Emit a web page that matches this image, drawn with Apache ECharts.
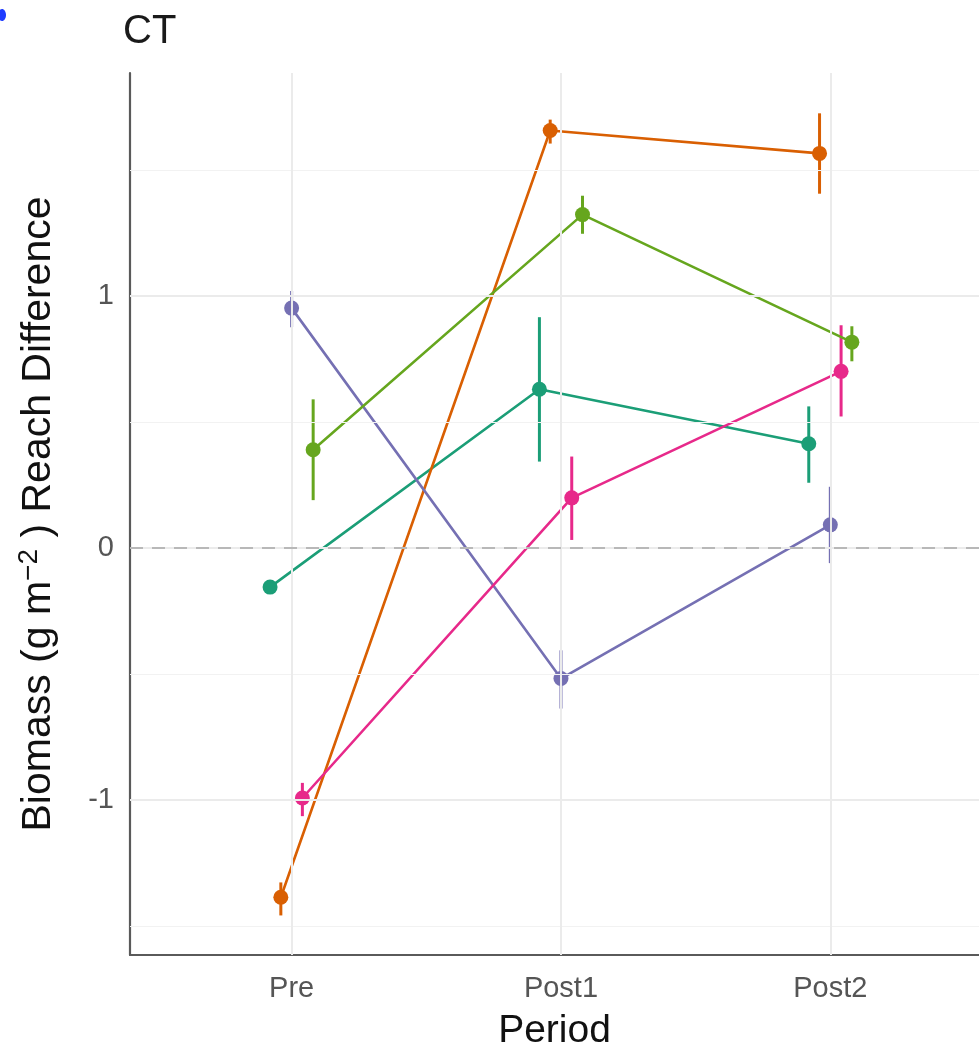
<!DOCTYPE html>
<html>
<head>
<meta charset="utf-8">
<title>CT</title>
<script src="https://cdn.jsdelivr.net/npm/echarts@6/dist/echarts.min.js"></script>
<style>
  html, body { margin: 0; padding: 0; background: #ffffff; }
  #chart { width: 979px; height: 1053px; }
</style>
</head>
<body>
<div id="chart"></div>
<script>
// Periods on the x axis
const periods = ['Pre', 'Post1', 'Post2'];

// Tick values on the y axis
const yTickValues = [-1, 0, 1];
const yMinorGrid = [-1.5, -0.5, 0.5, 1.5];

// Mean reach difference per period, with lower / upper error limits
const tealMean = [-0.155, 0.630, 0.414];
const tealLow  = [-0.172, 0.343, 0.259];
const tealHigh = [-0.138, 0.916, 0.562];

const orangeMean = [-1.386, 1.657, 1.566];
const orangeLow  = [-1.458, 1.605, 1.406];
const orangeHigh = [-1.327, 1.700, 1.725];

const purpleMean = [0.952, -0.518, 0.092];
const purpleLow  = [0.876, -0.637, -0.060];
const purpleHigh = [1.020, -0.406, 0.243];

const pinkMean = [-0.992, 0.199, 0.701];
const pinkLow  = [-1.064, 0.032, 0.522];
const pinkHigh = [-0.932, 0.363, 0.884];

const greenMean = [0.390, 1.323, 0.817];
const greenLow  = [0.190, 1.247, 0.741];
const greenHigh = [0.590, 1.398, 0.880];

// Groups in dodge order, with their Dark2 colours
const groups = [
  { name: 'teal',   color: '#1B9E77', mean: tealMean,   low: tealLow,   high: tealHigh },
  { name: 'orange', color: '#D95F02', mean: orangeMean, low: orangeLow, high: orangeHigh },
  { name: 'purple', color: '#7570B3', mean: purpleMean, low: purpleLow, high: purpleHigh },
  { name: 'pink',   color: '#E7298A', mean: pinkMean,   low: pinkLow,   high: pinkHigh },
  { name: 'green',  color: '#66A61E', mean: greenMean,  low: greenLow,  high: greenHigh }
];

// Horizontal dodge between groups, in category units
const DODGE = 0.04;
const FONT = "'Liberation Sans', Arial, sans-serif";

const chart = echarts.init(document.getElementById('chart'), null, { renderer: 'canvas' });

const series = [];

// Background grid and the dashed zero reference
const gridLines = [];
yMinorGrid.forEach(v => gridLines.push({ yAxis: v, lineStyle: { color: '#f2f2f2', width: 1.2, type: 'solid' } }));
yTickValues.forEach(v => gridLines.push({ yAxis: v, lineStyle: { color: '#ebebeb', width: 2, type: 'solid' } }));
periods.forEach((p, i) => gridLines.push({ xAxis: i + 1, lineStyle: { color: '#ebebeb', width: 2, type: 'solid' } }));
series.push({
  type: 'line',
  data: [],
  silent: true,
  z: 0,
  markLine: {
    silent: true,
    symbol: ['none', 'none'],
    label: { show: false },
    animation: false,
    data: gridLines
  }
});
series.push({
  type: 'line',
  data: [],
  silent: true,
  z: 1,
  markLine: {
    silent: true,
    symbol: ['none', 'none'],
    label: { show: false },
    animation: false,
    data: [{ yAxis: 0, lineStyle: { color: '#b8b8b8', width: 2, type: [13, 9] } }]
  }
});

groups.forEach((g, gi) => {
  const off = (gi - 2) * DODGE;
  // error bars
  series.push({
    type: 'custom',
    name: g.name + '-err',
    z: 3,
    silent: true,
    data: g.mean.map((m, i) => [i + 1 + off, g.low[i], g.high[i]]),
    renderItem: function (params, api) {
      const p1 = api.coord([api.value(0), api.value(1)]);
      const p2 = api.coord([api.value(0), api.value(2)]);
      return {
        type: 'line',
        shape: { x1: p1[0], y1: p1[1], x2: p2[0], y2: p2[1] },
        style: { stroke: g.color, lineWidth: 3 }
      };
    }
  });
  // connecting line and points
  series.push({
    type: 'line',
    name: g.name,
    z: 4,
    data: g.mean.map((m, i) => [i + 1 + off, m]),
    symbol: 'circle',
    symbolSize: 15,
    showAllSymbol: true,
    lineStyle: { color: g.color, width: 2.6 },
    itemStyle: { color: g.color, borderWidth: 0 },
    emphasis: { disabled: true },
    animation: false
  });
});

chart.setOption({
  backgroundColor: '#ffffff',
  animation: false,
  title: {
    text: 'CT',
    left: 118,
    top: 7,
    textStyle: { fontFamily: FONT, fontSize: 40, fontWeight: 'normal', color: '#1a1a1a' }
  },
  grid: { left: 130, right: 0, top: 73, bottom: 98, containLabel: false, outerBoundsMode: 'none' },
  xAxis: {
    type: 'value',
    min: 0.4,
    max: 3.552,
    name: 'Period',
    nameLocation: 'middle',
    nameGap: 57,
    nameTextStyle: { fontFamily: FONT, fontSize: 39, color: '#111111', verticalAlign: 'top' },
    axisLine: { show: true, onZero: false, lineStyle: { color: '#5a5a5a', width: 2.2 } },
    axisTick: { show: false },
    splitLine: { show: false },
    axisLabel: {
      customValues: [1, 2, 3],
      formatter: v => periods[Math.round(v) - 1] || '',
      margin: 19,
      fontFamily: FONT,
      fontSize: 29,
      color: '#555555'
    }
  },
  yAxis: {
    type: 'value',
    min: -1.615,
    max: 1.885,
    name: 'Biomass (g m{sup|\u22122} ) Reach Difference',
    nameLocation: 'middle',
    nameGap: 67,
    nameRotate: 90,
    nameTextStyle: {
      fontFamily: FONT,
      fontSize: 41,
      color: '#111111',
      rich: {
        sup: { fontFamily: FONT, fontSize: 28, color: '#111111', padding: [0, 0, 20, 0] }
      }
    },
    axisLine: { show: true, onZero: false, lineStyle: { color: '#5a5a5a', width: 2.2 } },
    axisTick: { show: false },
    splitLine: { show: false },
    axisLabel: {
      customValues: yTickValues,
      formatter: v => String(v),
      margin: 16,
      fontFamily: FONT,
      fontSize: 29,
      color: '#555555'
    }
  },
  graphic: [
    {
      type: 'ellipse',
      shape: { cx: 2, cy: 15, rx: 4, ry: 6 },
      style: { fill: '#1f3cff' }
    }
  ],
  series: series
});
</script>
</body>
</html>
